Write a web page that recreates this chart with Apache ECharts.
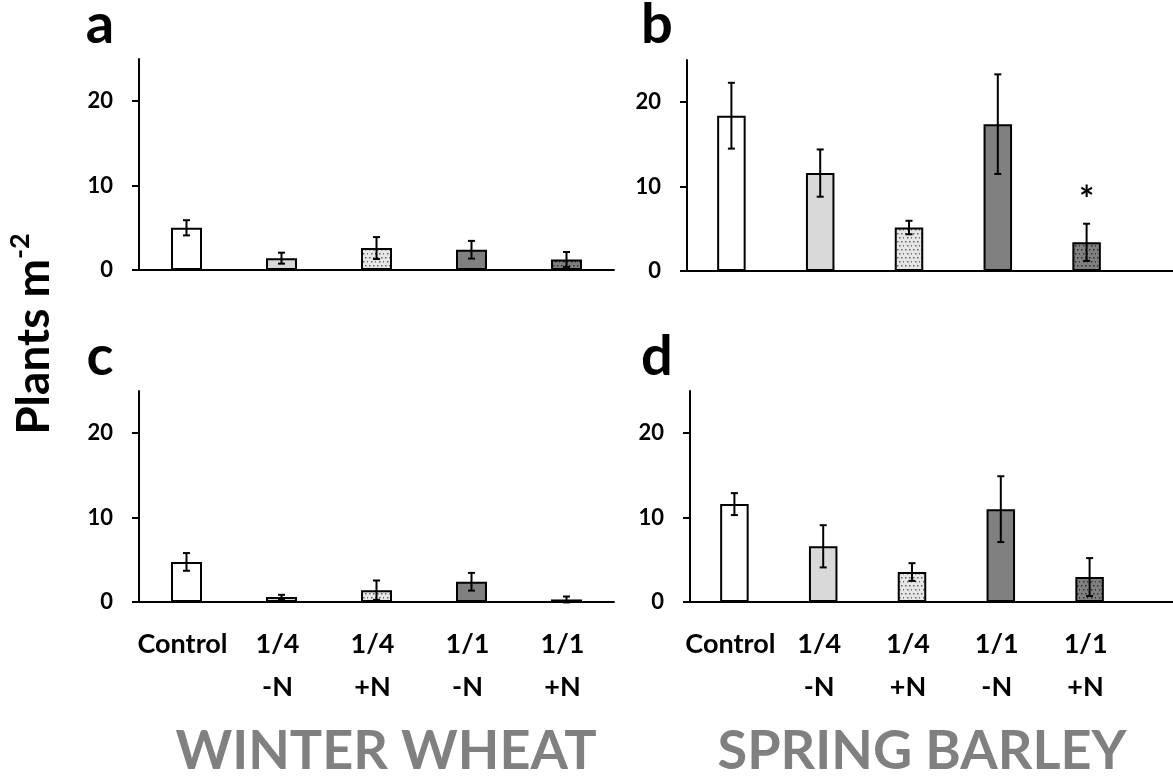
<!DOCTYPE html>
<html><head><meta charset="utf-8">
<script src="https://cdn.jsdelivr.net/npm/echarts@6/dist/echarts.min.js"></script>
<style>html,body{margin:0;padding:0;background:#fff}#c{width:1173px;height:781px}</style>
</head><body><div id="c"></div>
<script>
// ---------- data ----------
const categories = ['Control', '1/4\n-N', '1/4\n+N', '1/1\n-N', '1/1\n+N'];
const yTickValues = [0, 10, 20];
const yMax = 25;

const wheatTopMean  = [5.0, 1.4, 2.6, 2.4, 1.25];
const wheatTopErr   = [0.9, 0.65, 1.3, 1.05, 0.88];
const barleyTopMean = [18.4, 11.6, 5.15, 17.4, 3.4];
const barleyTopErr  = [3.9, 2.8, 0.8, 5.9, 2.2];
const barleyTopSig  = ['', '', '', '', '*'];
const wheatBotMean  = [4.75, 0.6, 1.4, 2.4, 0.3];
const wheatBotErr   = [1.05, 0.25, 1.15, 1.05, 0.35];
const barleyBotMean = [11.6, 6.6, 3.55, 11.0, 2.95];
const barleyBotErr  = [1.3, 2.5, 1.05, 3.9, 2.25];
const noSig = ['', '', '', '', ''];

const panelLetters = ['a', 'b', 'c', 'd'];
const cropTitles = ['WINTER WHEAT', 'SPRING BARLEY'];
const yTitleMain = 'Plants m';
const yTitleSup = '-2';

// ---------- styles ----------
const FONT = 'Lato, "Open Sans", sans-serif';
function dotPattern(bg, dot) {
  const c = document.createElement('canvas');
  c.width = 8; c.height = 8;
  const g = c.getContext('2d');
  g.fillStyle = bg; g.fillRect(0, 0, 8, 8);
  g.fillStyle = dot;
  [[1,1],[5,1],[3,5],[7,5]].forEach(p => g.fillRect(p[0], p[1], 1.5, 1.5));
  return { image: c, repeat: 'repeat' };
}
const fills = ['#ffffff', '#d9d9d9', dotPattern('#e6e6e6', '#666666'), '#808080', dotPattern('#808080', '#333333')];

const panels = [
  { mean: wheatTopMean,  err: wheatTopErr,  sig: noSig,        grid: {left: 139, top: 59,  width: 475, height: 211}, barW: 31,   labels: false },
  { mean: barleyTopMean, err: barleyTopErr, sig: barleyTopSig, grid: {left: 687, top: 60,  width: 444, height: 211}, barW: 28.5, labels: false },
  { mean: wheatBotMean,  err: wheatBotErr,  sig: noSig,        grid: {left: 139, top: 391, width: 475, height: 211}, barW: 31,   labels: true },
  { mean: barleyBotMean, err: barleyBotErr, sig: noSig,        grid: {left: 690, top: 391, width: 444, height: 211}, barW: 28.5, labels: true }
];
// axis-line extensions to the right edge for the barley panels
const extensions = [
  {left: 687, top: 60, width: 486, height: 211},
  {left: 690, top: 391, width: 483, height: 211}
];

const grid = [], xAxis = [], yAxis = [], series = [];
panels.forEach((p, i) => {
  grid.push(p.grid);
  xAxis.push({
    type: 'category', gridIndex: i, data: categories, boundaryGap: true,
    axisLine: {show: true, lineStyle: {color: '#000', width: 2}},
    axisTick: {show: false},
    axisLabel: {show: p.labels, interval: 0, color: '#000', fontFamily: FONT, fontWeight: 'bold',
                fontSize: 27, lineHeight: 43, margin: 21, padding: [0, 8, 0, 0]}
  });
  yAxis.push({
    type: 'value', gridIndex: i, min: 0, max: yMax,
    axisLine: {show: true, lineStyle: {color: '#000', width: 2}},
    axisTick: {show: true, length: 7, lineStyle: {color: '#000', width: 2}, customValues: yTickValues},
    axisLabel: {show: true, color: '#000', fontFamily: FONT, fontWeight: 'bold', fontSize: 22, margin: 26, customValues: yTickValues},
    splitLine: {show: false}
  });
  series.push({
    type: 'bar', xAxisIndex: i, yAxisIndex: i, barWidth: p.barW,
    data: p.mean.map((v, k) => ({value: v, itemStyle: {color: fills[k], borderColor: '#000', borderWidth: 2}})),
    animation: false
  });
  series.push({
    type: 'custom', xAxisIndex: i, yAxisIndex: i, z: 5,
    data: p.mean.map((v, k) => [k, v, p.err[k]]),
    renderItem: function (params, api) {
      const k = api.value(0), m = api.value(1), e = api.value(2);
      const top = api.coord([k, m + e]);
      const bot = api.coord([k, m - e]);
      const hw = 3.5;
      const st = {stroke: '#000', lineWidth: 2};
      const children = [
        {type: 'line', shape: {x1: top[0], y1: top[1], x2: bot[0], y2: bot[1]}, style: st},
        {type: 'line', shape: {x1: top[0] - hw, y1: top[1], x2: top[0] + hw, y2: top[1]}, style: st},
        {type: 'line', shape: {x1: bot[0] - hw, y1: bot[1], x2: bot[0] + hw, y2: bot[1]}, style: st}
      ];
      const s = p.sig[params.dataIndex];
      if (s) {
        children.push({type: 'text', style: {text: s, x: top[0], y: top[1] - 5, align: 'center', verticalAlign: 'bottom',
          font: 'bold 36px ' + FONT, fill: '#000'}});
      }
      return {type: 'group', children: children};
    },
    animation: false
  });
});
extensions.forEach((g, j) => {
  const idx = panels.length + j;
  grid.push(g);
  xAxis.push({type: 'value', gridIndex: idx, min: 0, max: 1,
    axisLine: {show: true, onZero: false, lineStyle: {color: '#000', width: 2}},
    axisTick: {show: false}, axisLabel: {show: false}, splitLine: {show: false}});
  yAxis.push({type: 'value', gridIndex: idx, min: 0, max: 1, show: false});
});

const letterPos = [[100, 25], [657, 25], [100, 357], [657, 357]];
const graphic = panelLetters.map((t, i) => ({
  type: 'text', x: letterPos[i][0], y: letterPos[i][1],
  style: {text: t, font: 'bold 56px ' + FONT, fill: '#000', align: 'center', verticalAlign: 'middle'}
}));
const titlePos = [[386, 752], [922, 752]];
cropTitles.forEach((t, i) => graphic.push({
  type: 'text', x: titlePos[i][0], y: titlePos[i][1],
  style: {text: t, font: 'bold 54px ' + FONT, fill: '#808080', align: 'center', verticalAlign: 'middle'}
}));
graphic.push({
  type: 'text', x: 32, y: 334, rotation: Math.PI / 2,
  style: {
    text: '{m|' + yTitleMain + '}{s|' + yTitleSup + '}',
    align: 'center', verticalAlign: 'middle',
    rich: {
      m: {font: 'bold 46px ' + FONT, fill: '#000', lineHeight: 50, verticalAlign: 'bottom'},
      s: {font: 'bold 27px ' + FONT, fill: '#000', lineHeight: 50, verticalAlign: 'top'}
    }
  }
});

const chart = echarts.init(document.getElementById('c'), null, {renderer: 'canvas'});
chart.setOption({
  animation: false,
  backgroundColor: '#fff',
  grid: grid, xAxis: xAxis, yAxis: yAxis, series: series, graphic: graphic
});
</script></body></html>
